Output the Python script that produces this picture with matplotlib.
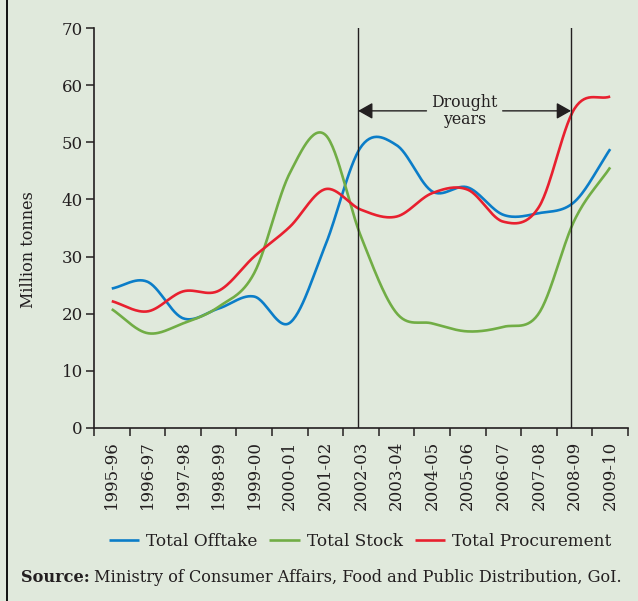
import numpy as np
import matplotlib.pyplot as plt
from matplotlib.lines import Line2D

# data (million tonnes)
years = ["1995-96", "1996-97", "1997-98", "1998-99", "1999-00", "2000-01", "2001-02",
         "2002-03", "2003-04", "2004-05", "2005-06", "2006-07", "2007-08", "2008-09", "2009-10"]
offtake = [24.4, 25.6, 19.2, 20.9, 23.0, 18.4, 32.0, 49.2, 49.5, 41.4, 42.1, 37.3, 37.6, 39.6, 48.8]
stock = [20.8, 16.6, 18.3, 21.2, 27.1, 44.6, 51.3, 33.5, 20.1, 18.3, 16.9, 17.7, 20.1, 36.4, 45.6]
procurement = [22.2, 20.4, 23.9, 24.0, 30.0, 35.2, 41.8, 38.2, 37.0, 41.1, 41.7, 36.1, 38.7, 55.9, 58.0]

bg = "#e0e9dc"
ink = "#231f20"
plt.rcParams["font.family"] = ["DejaVu Serif"]


def smooth(y, n=30):
    # catmull-rom curve through the points, just for drawing
    y = np.asarray(y, float)
    x = np.arange(len(y))
    p = np.concatenate([[2 * y[0] - y[1]], y, [2 * y[-1] - y[-2]]])
    xs, ys = [], []
    for i in range(len(y) - 1):
        t = np.linspace(0, 1, n, endpoint=False)
        p0, p1, p2, p3 = p[i], p[i + 1], p[i + 2], p[i + 3]
        m1, m2 = (p2 - p0) / 2, (p3 - p1) / 2
        h00 = 2 * t**3 - 3 * t**2 + 1
        h10 = t**3 - 2 * t**2 + t
        h01 = -2 * t**3 + 3 * t**2
        h11 = t**3 - t**2
        xs.append(x[i] + t)
        ys.append(h00 * p1 + h10 * m1 + h01 * p2 + h11 * m2)
    xs.append([x[-1]])
    ys.append([y[-1]])
    return np.concatenate(xs), np.concatenate(ys)


fig = plt.figure(figsize=(6.38, 6.01), dpi=100, facecolor=bg)
ax = fig.add_axes([0.1473, 0.2879, 0.837, 0.6655], facecolor=bg)

series = [("Total Offtake", offtake, "#0b7dc8"),
          ("Total Stock", stock, "#71ad45"),
          ("Total Procurement", procurement, "#e8202f")]
for name, vals, col in series:
    xs, ys = smooth(vals)
    ax.plot(xs, ys, color=col, lw=1.9, label=name, solid_capstyle="butt")

# drought period markers
d_start, d_end = 6.92, 12.9
ax.axvline(d_start, color=ink, lw=1.0)
ax.axvline(d_end, color=ink, lw=1.0)
mid = (d_start + d_end) / 2
arrow_y = 55.5
ax.text(mid, arrow_y, "Drought\nyears", ha="center", va="center", fontsize=11.3,
        color=ink, linespacing=0.95)
for tail, head in [(mid - 1.07, d_start), (mid + 1.07, d_end)]:
    ax.annotate("", xy=(head, arrow_y), xytext=(tail, arrow_y),
                arrowprops=dict(arrowstyle="-|>,head_length=0.8,head_width=0.45",
                                color=ink, lw=1.0, shrinkA=0, shrinkB=0,
                                mutation_scale=11))

ax.set_xlim(-0.5, len(years) - 0.5)
ax.set_ylim(0, 70)
ax.set_yticks(range(0, 71, 10))
ax.set_xticks(np.arange(-0.5, len(years), 1))
ax.set_xticklabels([])
ax.set_xticks(range(len(years)), minor=True)
ax.set_xticklabels(years, minor=True, rotation=90, fontsize=12, color=ink)
ax.tick_params(axis="x", which="major", length=6, width=1.1, color=ink, direction="out")
ax.tick_params(axis="x", which="minor", length=0, pad=9)
ax.tick_params(axis="y", length=6, width=1.1, color=ink, labelsize=12, labelcolor=ink, pad=2)
for s in ["top", "right"]:
    ax.spines[s].set_visible(False)
for s in ["left", "bottom"]:
    ax.spines[s].set_color(ink)
    ax.spines[s].set_linewidth(1.2)

fig.text(28.5 / 638, 1 - 250 / 601, "Million tonnes", rotation=90, ha="center",
         va="center", fontsize=11.5, color=ink)

fig.legend(loc="center", bbox_to_anchor=(360 / 638, 1 - 541 / 601), ncol=3, frameon=False,
           fontsize=12.2, handlelength=1.8, handletextpad=0.4, columnspacing=0.7,
           labelcolor=ink)

# source line: bold label followed by plain text
src = fig.text(21 / 638, 1 - 577 / 601, "Source:", fontsize=11.6, color=ink,
               va="center", fontweight="bold")
fig.add_artist(plt.Annotation("Ministry of Consumer Affairs, Food and Public Distribution, GoI.",
                              xy=(1, 0.5), xycoords=src, xytext=(3, 0),
                              textcoords="offset points", va="center", fontsize=11.6,
                              color=ink))

# left border of the box
fig.add_artist(Line2D([7 / 638, 7 / 638], [0, 1], color="black", lw=1.3,
                      transform=fig.transFigure))

fig.savefig("out.png", dpi=100, facecolor=bg)
